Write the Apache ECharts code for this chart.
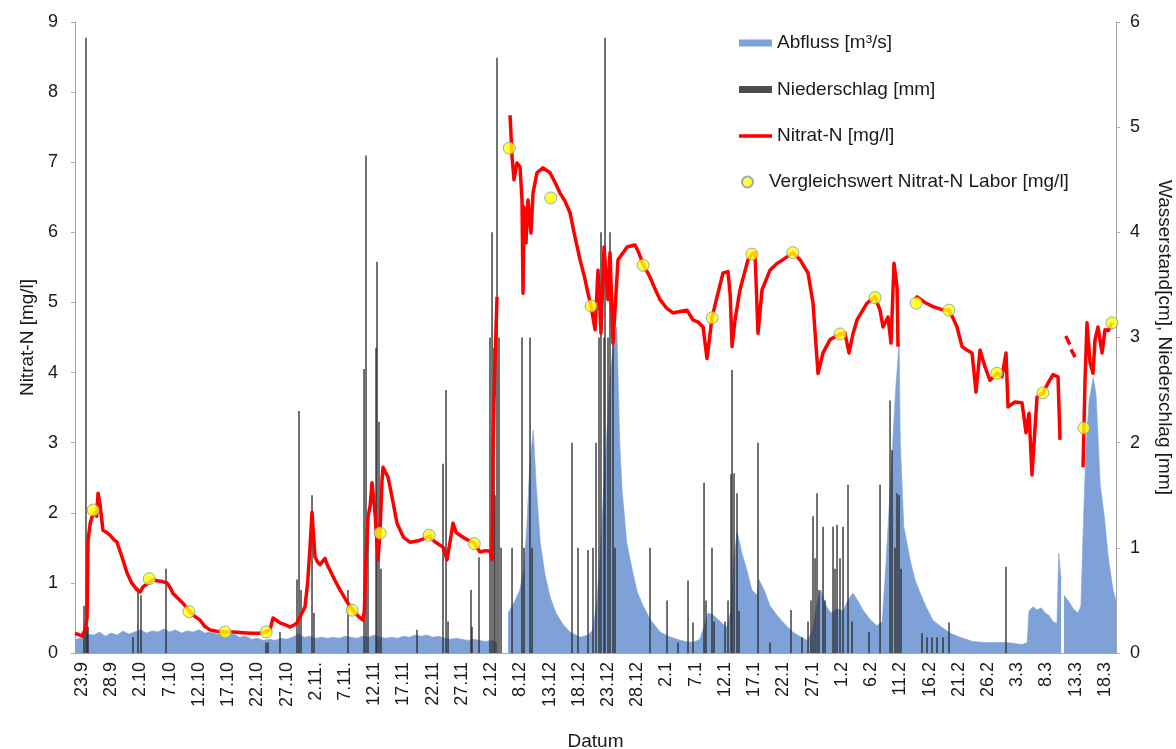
<!DOCTYPE html>
<html>
<head>
<meta charset="utf-8">
<title>Nitrat-N, Abfluss und Niederschlag</title>
<script src="https://cdn.jsdelivr.net/npm/echarts@6/dist/echarts.min.js"></script>
<style>
  html, body { margin: 0; padding: 0; background: #ffffff; }
  #chart { width: 1176px; height: 749px; }
</style>
</head>
<body>
<div id="chart"></div>
<script>
// x values are days counted from 23.9.; one tick label every 5 days
const tickLabels = ['23.9', '28.9', '2.10', '7.10', '12.10', '17.10', '22.10', '27.10',
  '2.11.', '7.11.', '12.11', '17.11', '22.11', '27.11', '2.12', '8.12', '13.12', '18.12',
  '23.12', '28.12', '2.1', '7.1', '12.1', '17.1', '22.1', '27.1', '1.2', '6.2', '11.2',
  '16.2', '21.2', '26.2', '3.3', '8.3', '13.3', '18.3'];
const tickDays = tickLabels.map((_, i) => i * 5);

// Abfluss [m³/s] (right axis), [day, value]; null marks missing records
const abfluss = [
  [-1.2, 0.13], [0, 0.14], [0.5, 0.22], [1, 0.18], [2, 0.17], [3, 0.2], [4, 0.16], [5, 0.19],
  [6, 0.17], [7, 0.21], [8, 0.18], [9, 0.2], [10, 0.22], [11, 0.19], [12, 0.21], [13, 0.2],
  [14, 0.23], [15, 0.2], [16, 0.22], [17, 0.19], [18, 0.21], [19, 0.2], [20, 0.22], [21, 0.19],
  [22, 0.2], [23, 0.18], [24, 0.19], [25, 0.17], [26, 0.18], [27, 0.15], [28, 0.16], [29, 0.13],
  [30, 0.14], [31, 0.12], [32, 0.13], [33, 0.12], [34, 0.14], [35, 0.13], [36, 0.15], [37, 0.18],
  [38, 0.15], [39, 0.16], [40, 0.14], [41, 0.15], [42, 0.14], [43, 0.15], [44, 0.14], [45, 0.16],
  [46, 0.15], [47, 0.14], [48, 0.16], [49, 0.15], [50, 0.17], [51, 0.15], [52, 0.14], [53, 0.15],
  [54, 0.14], [55, 0.16], [56, 0.15], [57, 0.17], [58, 0.16], [59, 0.17], [60, 0.15], [61, 0.16],
  [62, 0.14], [63, 0.13], [64, 0.14], [65, 0.13], [66, 0.12], [67, 0.13], [68, 0.12], [69, 0.11],
  [70, 0.12], [71, 0.1], [71.5, null],
  [72.9, 0.38], [73.2, 0.41], [74.1, 0.5], [74.9, 0.6], [75.6, 0.8], [76.1, 1.2], [76.6, 1.8],
  [77.2, 2.12], [77.7, 1.6], [78.4, 1.05], [79.2, 0.75], [80.1, 0.53], [81.1, 0.38], [82.3, 0.27],
  [83.5, 0.2], [85.2, 0.15], [86.6, 0.17], [87.4, 0.22], [88.1, 0.5], [88.6, 0.9], [89.2, 1.5],
  [89.7, 2.0], [90.3, 2.6], [91.0, 3.0], [91.5, 3.1], [92.0, 2.0], [92.4, 1.55], [93.2, 1.05],
  [94.1, 0.8], [95.0, 0.58], [96.0, 0.45], [97.2, 0.32], [98.9, 0.2], [100.3, 0.16], [101.8, 0.13],
  [103.2, 0.11], [104.5, 0.1], [105.7, 0.13], [106.4, 0.25], [107.1, 0.38], [108.0, 0.36],
  [109.2, 0.3], [110.3, 0.24], [111.0, 0.4], [111.5, 0.9], [112.1, 1.15], [112.9, 0.95],
  [113.8, 0.78], [114.6, 0.6], [115.5, 0.55], [115.8, 0.7], [116.7, 0.6], [117.7, 0.45],
  [118.9, 0.36], [120.3, 0.27], [121.6, 0.2], [122.8, 0.16], [124.0, 0.12], [124.9, 0.2],
  [125.8, 0.5], [126.4, 0.6], [127.3, 0.45], [128.1, 0.38], [129.2, 0.42], [130.2, 0.4],
  [131.0, 0.5], [131.9, 0.57], [132.7, 0.5], [133.6, 0.41], [134.8, 0.32], [136.0, 0.26],
  [136.9, 0.3], [137.6, 0.9], [138.2, 1.5], [138.7, 2.0], [139.2, 2.5], [139.8, 2.95], [140.0, 2.0],
  [140.6, 1.2], [141.3, 1.0], [141.7, 0.88], [142.5, 0.7], [143.4, 0.57], [144.4, 0.44],
  [145.6, 0.31], [147.0, 0.25], [148.5, 0.19], [150.2, 0.15], [152.4, 0.11], [154.5, 0.1],
  [156.2, 0.1], [158.3, 0.1], [159.6, 0.09], [160.8, 0.08], [161.7, 0.1], [162.0, 0.4],
  [162.7, 0.44], [163.4, 0.41], [164.1, 0.43], [164.8, 0.38], [165.4, 0.36], [166.1, 0.3],
  [166.8, 0.28], [167.1, 0.95], [167.5, 0.7], [167.7, null],
  [168.0, 0.55], [168.7, 0.5], [169.6, 0.42], [170.4, 0.38], [170.9, 0.45], [171.3, 1.2],
  [171.8, 2.0], [172.3, 2.4], [173.0, 2.62], [173.5, 2.45], [174.2, 1.6], [174.9, 1.3],
  [175.6, 0.9], [176.4, 0.6], [176.9, 0.5]
];

// Niederschlag [mm] (right axis), [day, value]
const niederschlag = [
  [0.34, 0.45], [0.68, 5.85], [0.86, 0.35], [1.03, 0.25], [8.73, 0.15], [9.58, 0.62], [10.09, 0.55],
  [14.37, 0.8], [31.48, 0.1], [31.82, 0.1], [33.87, 0.2], [36.78, 0.7], [37.13, 2.3], [37.47, 0.6],
  [39.35, 1.5], [39.69, 0.38], [45.51, 0.6], [48.25, 2.7], [48.59, 4.73], [48.93, 1.2], [50.3, 2.9],
  [50.47, 3.72], [50.81, 2.2], [51.15, 0.8], [57.31, 0.22], [61.76, 1.8], [62.28, 2.5], [62.62, 0.3],
  [66.55, 0.6], [66.72, 0.25], [67.92, 0.91], [69.8, 3.0], [70.15, 4.0], [70.49, 2.9], [70.66, 1.5],
  [71.0, 5.66], [71.34, 3.0], [71.69, 1.0], [73.57, 1.0], [75.28, 3.0], [75.62, 1.0], [76.65, 3.0],
  [76.99, 1.0], [83.83, 2.0], [84.86, 1.0], [86.57, 0.98], [87.42, 1.0], [87.94, 2.0], [88.45, 3.0],
  [88.79, 4.0], [89.31, 3.0], [89.48, 5.85], [89.99, 3.0], [90.33, 4.0], [90.85, 3.0], [91.19, 1.0],
  [97.18, 1.0], [100.09, 0.5], [101.97, 0.1], [103.68, 0.69], [104.53, 0.29], [106.42, 1.62],
  [106.76, 0.5], [107.78, 1.0], [108.13, 0.3], [110.01, 0.3], [110.52, 0.5], [111.04, 1.7],
  [111.21, 2.69], [111.55, 1.71], [112.06, 1.52], [112.4, 0.4], [115.65, 2.0], [117.71, 0.1],
  [121.3, 0.41], [123.18, 0.15], [124.21, 0.3], [124.72, 0.5], [125.06, 1.3], [125.41, 0.9],
  [125.75, 1.52], [126.09, 0.6], [126.78, 1.2], [127.12, 0.5], [128.49, 1.2], [128.83, 0.8],
  [129.17, 1.22], [129.68, 0.9], [130.2, 1.2], [131.05, 1.6], [131.74, 0.3], [134.65, 0.2],
  [136.53, 1.6], [138.24, 2.4], [138.58, 1.93], [139.1, 1.0], [139.44, 1.52], [139.78, 1.5],
  [140.12, 0.8], [143.71, 0.19], [144.57, 0.15], [145.42, 0.15], [146.28, 0.15], [147.31, 0.15],
  [148.33, 0.29], [158.08, 0.82]
];

// Nitrat-N [mg/l] from the probe (left axis), [day, value]; null marks gaps
const nitrat = [
  [-1.2, 0.28], [-0.5, 0.26], [0, 0.24], [0.5, 0.33], [0.86, 0.5], [1.03, 1.6], [1.4, 1.85],
  [1.71, 1.94], [2.2, 2.0], [2.5, 1.95], [2.74, 2.28], [3.1, 2.1], [3.59, 1.75], [4.2, 1.72],
  [4.79, 1.68], [5.4, 1.62], [5.99, 1.58], [6.8, 1.38], [7.7, 1.14], [8.5, 1.0], [9.41, 0.9],
  [9.92, 0.87], [10.5, 0.95], [11.46, 1.0], [12.2, 1.05], [12.83, 1.03], [13.7, 1.02], [14.54, 1.0],
  [15.1, 0.93], [15.57, 0.85], [16.4, 0.78], [17.28, 0.71], [18.31, 0.6], [19.2, 0.53],
  [20.19, 0.47], [21.0, 0.38], [21.9, 0.33], [23.0, 0.31], [24.47, 0.3], [26.0, 0.3], [27.5, 0.29],
  [29.0, 0.28], [30.45, 0.28], [31.48, 0.3], [32.2, 0.34], [32.68, 0.5], [33.2, 0.47],
  [33.87, 0.43], [34.8, 0.4], [35.59, 0.37], [36.3, 0.4], [36.78, 0.43], [37.5, 0.55],
  [38.15, 0.66], [38.6, 1.0], [39.01, 1.51], [39.35, 2.01], [39.6, 1.7], [39.86, 1.37],
  [40.3, 1.3], [40.72, 1.26], [41.1, 1.3], [41.57, 1.35], [42.0, 1.25], [42.43, 1.18],
  [43.3, 1.03], [44.14, 0.9], [45.34, 0.73], [46.19, 0.63], [47.2, 0.53], [48.08, 0.47],
  [48.3, 0.6], [48.59, 1.33], [48.93, 1.94], [49.3, 2.1], [49.61, 2.43], [50.13, 2.0],
  [50.64, 1.33], [50.98, 1.72], [51.33, 2.47], [51.5, 2.65], [51.9, 2.58], [52.35, 2.51],
  [53.1, 2.2], [53.89, 1.85], [55.0, 1.65], [56.12, 1.58], [57.5, 1.6], [59.37, 1.66],
  [60.5, 1.58], [61.76, 1.51], [62.45, 1.33], [63.0, 1.6], [63.47, 1.85], [64.0, 1.72],
  [64.67, 1.68], [65.8, 1.62], [67.07, 1.57], [68.09, 1.44], [69.0, 1.46], [69.8, 1.45],
  [70.15, 1.33], [70.32, 2.94], [70.6, 4.0], [71.0, 5.08], [72.0, null],
  [73.23, 7.67], [73.57, 7.08], [73.91, 6.75], [74.2, 6.9], [74.42, 6.99], [74.94, 6.93],
  [75.28, 6.46], [75.45, 5.13], [75.62, 6.36], [75.96, 5.85], [76.3, 6.46], [76.82, 5.99],
  [77.16, 6.56], [77.84, 6.85], [78.87, 6.92], [80.07, 6.85], [81.0, 6.7], [81.78, 6.56],
  [82.6, 6.45], [83.49, 6.28], [84.3, 5.95], [85.2, 5.61], [86.0, 5.35], [86.57, 5.13],
  [87.08, 4.95], [87.77, 4.61], [88.28, 5.46], [88.79, 4.56], [89.31, 5.79], [89.99, 5.04],
  [90.33, 5.71], [90.85, 4.42], [91.7, 5.61], [92.5, 5.7], [93.24, 5.79], [94.61, 5.82],
  [95.3, 5.7], [95.98, 5.55], [97.18, 5.36], [98.0, 5.2], [98.89, 5.04], [100.0, 4.92],
  [101.11, 4.85], [102.3, 4.87], [103.51, 4.89], [104.53, 4.75], [105.4, 4.72], [106.25, 4.65],
  [106.93, 4.2], [107.3, 4.45], [107.78, 4.78], [108.64, 5.08], [109.67, 5.42], [110.52, 5.44],
  [110.9, 5.1], [111.21, 4.37], [111.72, 4.75], [112.57, 5.18], [113.94, 5.61], [114.63, 5.69],
  [115.14, 5.71], [115.65, 4.56], [116.34, 5.18], [117.71, 5.46], [118.8, 5.55], [119.93, 5.61],
  [121.64, 5.71], [122.84, 5.61], [124.21, 5.42], [125.06, 4.99], [125.92, 3.99], [126.78, 4.28],
  [127.97, 4.47], [129.68, 4.55], [130.54, 4.56], [131.22, 4.28], [131.9, 4.55], [132.59, 4.75],
  [134.3, 4.99], [135.67, 5.08], [136.53, 4.89], [137.04, 4.65], [137.9, 4.79], [138.41, 4.42],
  [138.92, 5.56], [139.44, 5.22], [139.61, 4.37], [141.0, null],
  [142.51, 5.05], [142.86, 5.08], [144.2, 5.0], [145.59, 4.94], [147.0, 4.9], [148.33, 4.89],
  [149.0, 4.78], [149.7, 4.65], [150.56, 4.37], [151.41, 4.32], [152.27, 4.28], [152.95, 3.72],
  [153.64, 4.32], [154.49, 4.08], [155.35, 3.89], [156.54, 3.99], [157.4, 3.94], [158.08, 4.28],
  [158.43, 3.51], [159.62, 3.58], [160.82, 3.57], [161.51, 3.14], [162.02, 3.42], [162.53, 2.54],
  [163.39, 3.65], [164.41, 3.71], [165.27, 3.85], [166.12, 3.97], [166.98, 3.94], [167.32, 3.04],
  [167.8, null], [168.3, 4.52], [169.0, 4.4], [169.1, null], [169.2, 4.33], [169.9, 4.22],
  [170.6, null],
  [171.26, 2.65], [171.6, 3.89], [171.94, 4.71], [172.46, 4.14], [172.97, 3.99], [173.31, 4.47],
  [173.82, 4.65], [174.51, 4.28], [175.02, 4.61], [175.6, 4.6], [176.22, 4.71]
];

// Vergleichswert Nitrat-N Labor [mg/l] (left axis), [day, value]
const labor = [
  [1.9, 2.04], [11.5, 1.06], [18.3, 0.59], [24.5, 0.3], [31.5, 0.3], [46.2, 0.61], [51.0, 1.71],
  [59.4, 1.68], [67.1, 1.56], [73.1, 7.2], [80.2, 6.49], [87.1, 4.95], [96.0, 5.53], [107.8, 4.78],
  [114.6, 5.69], [121.6, 5.71], [129.7, 4.55], [135.7, 5.07], [142.7, 4.99], [148.3, 4.89],
  [156.5, 3.99], [164.4, 3.71], [171.4, 3.21], [176.2, 4.71]
];

const TEXT = '#1a1a1a';
const AXIS = '#a6a6a6';
const FONT = '"Liberation Sans", Arial, sans-serif';
const BLUE = '#7ea2d8';
const RED = '#ff0000';

const chart = echarts.init(document.getElementById('chart'), null, { renderer: 'canvas' });

chart.setOption({
  animation: false,
  backgroundColor: '#ffffff',
  textStyle: { fontFamily: FONT, color: TEXT },
  grid: { left: 75, right: 60, top: 22, bottom: 96, containLabel: false, outerBoundsMode: 'none' },
  legend: [
    {
      orient: 'vertical',
      left: 734,
      top: 28,
      itemWidth: 33,
      itemHeight: 7,
      itemGap: 26.5,
      textStyle: { fontSize: 19, color: TEXT, fontFamily: FONT, lineHeight: 20 },
      data: [
        { name: 'Abfluss [m³/s]', icon: 'rect' },
        { name: 'Niederschlag [mm]', icon: 'rect' },
        { name: 'Nitrat-N [mg/l]', icon: 'path://M0,0L33,0L33,3.5L0,3.5Z', itemStyle: { color: RED } }
      ]
    },
    {
      orient: 'vertical',
      left: 736,
      top: 167,
      itemWidth: 33,
      itemHeight: 11,
      textStyle: { fontSize: 19, color: TEXT, fontFamily: FONT, lineHeight: 20 },
      data: [{ name: 'Vergleichswert Nitrat-N Labor [mg/l]', icon: 'circle' }]
    }
  ],
  xAxis: {
    type: 'value',
    min: -1.2,
    max: 176.9,
    name: 'Datum',
    nameLocation: 'middle',
    nameGap: 79,
    nameTextStyle: { fontSize: 19, color: TEXT, fontFamily: FONT },
    axisLine: { show: true, onZero: false, lineStyle: { color: AXIS, width: 1 } },
    axisTick: { show: false },
    splitLine: { show: false },
    axisLabel: {
      customValues: tickDays,
      rotate: 90,
      margin: 9,
      fontSize: 18,
      color: TEXT,
      fontFamily: FONT,
      formatter: (v) => tickLabels[Math.round(v / 5)] || ''
    }
  },
  yAxis: [
    {
      type: 'value',
      position: 'left',
      min: 0,
      max: 9,
      interval: 1,
      name: 'Nitrat-N [mg/l]',
      nameLocation: 'middle',
      nameRotate: 90,
      nameGap: 35,
      nameTextStyle: { fontSize: 19, color: TEXT, fontFamily: FONT },
      axisLine: { show: true, onZero: false, lineStyle: { color: AXIS, width: 1 } },
      axisTick: { show: true, length: 4, lineStyle: { color: AXIS } },
      splitLine: { show: false },
      axisLabel: { fontSize: 18, color: TEXT, margin: 17, fontFamily: FONT }
    },
    {
      type: 'value',
      position: 'right',
      min: 0,
      max: 6,
      interval: 1,
      name: 'Wasserstand[cm], Niederschlag [mm]',
      nameLocation: 'middle',
      nameRotate: -90,
      nameGap: 39,
      nameTextStyle: { fontSize: 19, color: TEXT, fontFamily: FONT },
      axisLine: { show: true, onZero: false, lineStyle: { color: AXIS, width: 1 } },
      axisTick: { show: true, length: 4, lineStyle: { color: AXIS } },
      splitLine: { show: false },
      axisLabel: { fontSize: 18, color: TEXT, margin: 14, fontFamily: FONT }
    }
  ],
  series: [
    {
      name: 'Abfluss [m³/s]',
      type: 'line',
      yAxisIndex: 1,
      data: abfluss,
      showSymbol: false,
      symbol: 'none',
      connectNulls: false,
      lineStyle: { width: 0.6, color: BLUE },
      itemStyle: { color: BLUE },
      areaStyle: { color: BLUE, opacity: 1 },
      z: 1
    },
    {
      name: 'Niederschlag [mm]',
      type: 'bar',
      yAxisIndex: 1,
      data: niederschlag,
      barWidth: 1.6,
      itemStyle: { color: '#2e2e2e', opacity: 0.85 },
      z: 2
    },
    {
      name: 'Nitrat-N [mg/l]',
      type: 'line',
      yAxisIndex: 0,
      data: nitrat,
      showSymbol: false,
      symbol: 'none',
      connectNulls: false,
      lineStyle: { width: 3.5, color: RED, join: 'round' },
      itemStyle: { color: RED },
      z: 3
    },
    {
      name: 'Vergleichswert Nitrat-N Labor [mg/l]',
      type: 'scatter',
      yAxisIndex: 0,
      data: labor,
      symbol: 'circle',
      symbolSize: 12,
      itemStyle: { color: '#ffff00', borderColor: '#7d93c4', borderWidth: 1 },
      z: 4
    }
  ]
});
</script>
</body>
</html>
